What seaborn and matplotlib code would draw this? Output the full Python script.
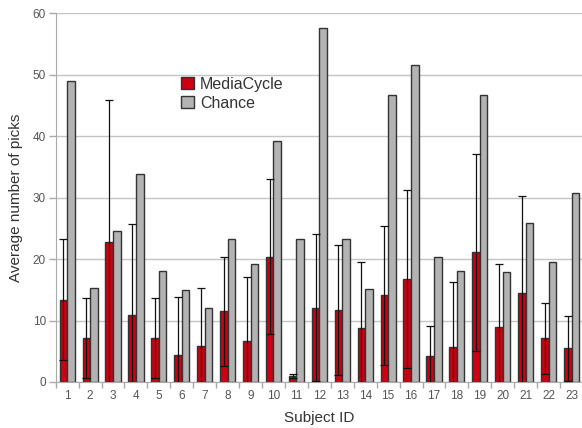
import pandas as pd
import seaborn as sns
import matplotlib.pyplot as plt

# datos
sujetos = [str(i) for i in range(1, 24)]
mediacycle = [13.4, 7.2, 22.7, 10.9, 7.1, 4.4, 5.9, 11.5, 6.7, 20.4, 1.0, 12.1,
              11.7, 8.7, 14.1, 16.8, 4.3, 5.7, 21.1, 9.0, 14.4, 7.1, 5.5]
desvio = [9.8, 6.5, 23.1, 14.8, 6.5, 9.4, 9.4, 8.9, 10.4, 12.6, 0.3, 11.9,
          10.6, 10.8, 11.3, 14.5, 4.8, 10.5, 16.0, 10.2, 15.9, 5.8, 5.3]
chance = [49.0, 15.3, 24.5, 33.8, 18.1, 14.9, 12.0, 23.3, 19.2, 39.2, 23.3, 57.6,
          23.3, 15.2, 46.7, 51.6, 20.4, 18.0, 46.7, 17.9, 25.8, 19.5, 30.7]

datos = pd.DataFrame({
    'Subject ID': sujetos * 2,
    'picks': mediacycle + chance,
    'Serie': ['MediaCycle'] * len(sujetos) + ['Chance'] * len(sujetos),
})

sns.set_style('white')
plt.rcParams['font.family'] = ['Liberation Sans', 'DejaVu Sans']

fig = plt.figure(figsize=(5.82, 4.28), dpi=100)
ax = fig.add_axes([0.0957, 0.1075, 0.906, 0.862])

colores = {'MediaCycle': '#cc0011', 'Chance': '#b3b3b3'}
sns.barplot(data=datos, x='Subject ID', y='picks', hue='Serie', palette=colores,
            width=0.66, gap=0, edgecolor='#333333', linewidth=1, errorbar=None,
            saturation=1, ax=ax)

# barras de error sobre MediaCycle
centros = [p.get_x() + p.get_width() / 2 for p in ax.containers[0]]
ax.errorbar(centros, mediacycle, yerr=desvio, fmt='none', ecolor='#111111',
            elinewidth=0.9, capsize=3, capthick=0.9, zorder=4)

ax.set_ylim(0, 60)
ax.set_xlim(-0.5, len(sujetos) - 0.5)
ax.set_yticks(range(0, 61, 10))
ax.grid(axis='y', color='#c4c4c4', linewidth=1)
ax.set_axisbelow(True)

ax.set_xticks(range(len(sujetos)), minor=False)
ax.set_xticks([i - 0.5 for i in range(len(sujetos) + 1)], minor=True)
ax.tick_params(axis='x', which='major', length=0, pad=6, labelsize=8.5, labelcolor='#555555')
ax.tick_params(axis='x', which='minor', length=4, width=1, color='#aaaaaa', bottom=True)
ax.tick_params(axis='y', length=5, width=1, color='#aaaaaa', labelsize=8.5,
               labelcolor='#555555', left=True, pad=2)

for lado in ['top', 'right']:
    ax.spines[lado].set_visible(False)
ax.spines['left'].set_color('#aaaaaa')
ax.spines['bottom'].set_color('#aaaaaa')

ax.set_xlabel('Subject ID', fontsize=11, color='#333333', labelpad=6)
ax.set_ylabel('Average number of picks', fontsize=11, color='#333333', labelpad=7)

ax.legend(loc='upper left', bbox_to_anchor=(0.21, 0.866), frameon=False,
          fontsize=11.5, handlelength=0.8, handleheight=0.8, handletextpad=0.4,
          labelspacing=0.25, labelcolor='#333333', title=None)

fig.savefig('out.png', dpi=100)
